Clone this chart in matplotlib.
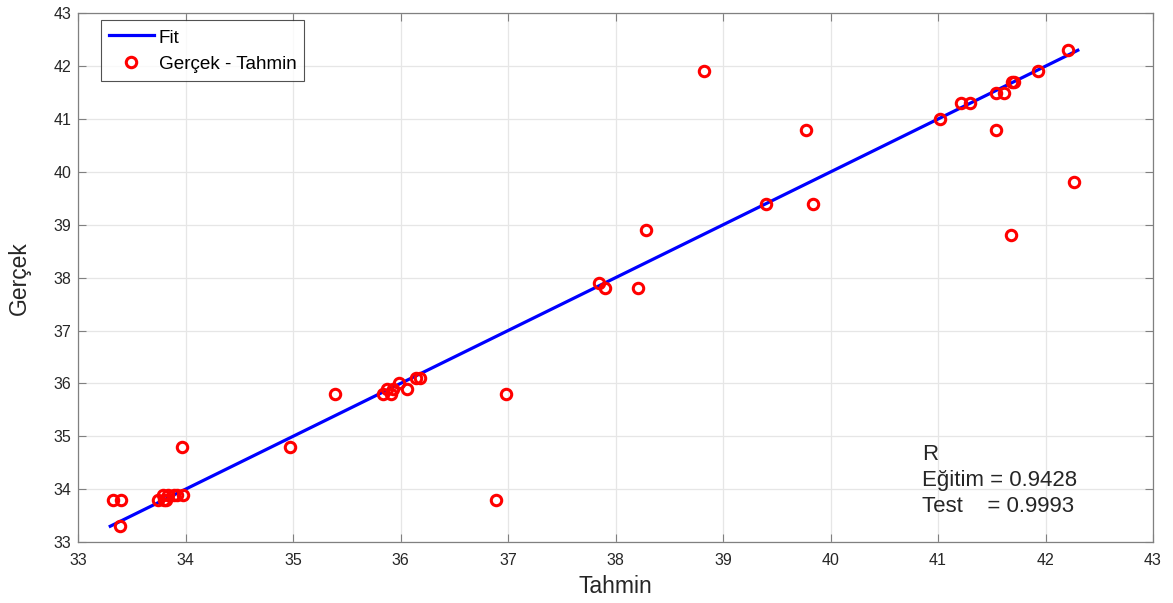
import matplotlib
matplotlib.use("Agg")
import matplotlib.pyplot as plt

plt.rcParams['font.family'] = ['Liberation Sans', 'DejaVu Sans']

# Data: predicted (Tahmin) vs actual (Gerçek)
tahmin = [33.33, 33.40, 33.39, 33.74, 33.79, 33.82, 33.80, 33.84, 33.89, 33.92, 33.98, 33.97, 34.97,
          35.39, 35.84, 35.87, 35.91, 35.93, 35.99, 36.06, 36.14, 36.18, 36.98, 36.89,
          37.85, 37.90, 38.21, 38.28, 38.82, 39.40, 39.84, 39.77,
          41.02, 41.21, 41.30, 41.54, 41.61, 41.69, 41.71, 41.93, 42.21, 41.54, 42.26, 41.68]
gercek = [33.8, 33.8, 33.3, 33.8, 33.9, 33.8, 33.8, 33.9, 33.9, 33.9, 33.9, 34.8, 34.8,
          35.8, 35.8, 35.9, 35.8, 35.9, 36.0, 35.9, 36.1, 36.1, 35.8, 33.8,
          37.9, 37.8, 37.8, 38.9, 41.9, 39.4, 39.4, 40.8,
          41.0, 41.3, 41.3, 41.5, 41.5, 41.7, 41.7, 41.9, 42.3, 40.8, 39.8, 38.8]
fit_x = [33.3, 42.3]
fit_y = [33.3, 42.3]
ticks = list(range(33, 44))

fig = plt.figure(figsize=(11.73, 6.03), dpi=100)
ax = fig.add_axes([0.0665, 0.101, 0.9165, 0.877])

ax.plot(fit_x, fit_y, color='#0000ff', lw=2.3, label='Fit', zorder=2)
ax.plot(tahmin, gercek, linestyle='none', marker='o', markersize=7.5, markerfacecolor='none',
        markeredgecolor='#ff0000', markeredgewidth=2.2, label='Gerçek - Tahmin', zorder=3)

ax.set_xlim(33, 43)
ax.set_ylim(33, 43)
ax.set_xticks(ticks)
ax.set_yticks(ticks)
ax.grid(True, color='#e6e6e6', lw=0.9)
ax.set_axisbelow(True)
ax.tick_params(direction='in', top=True, right=True, length=6, width=0.8,
               color='#808080', labelcolor='#262626', labelsize=11.5)
ax.tick_params(axis='x', pad=8)
ax.tick_params(axis='y', pad=5)
for s in ax.spines.values():
    s.set_color('#808080')
    s.set_linewidth(0.9)

ax.set_xlabel('Tahmin', fontsize=16.5, color='#262626', labelpad=5)
ax.set_ylabel('Gerçek', fontsize=16.5, color='#262626', labelpad=16)

leg = ax.legend(loc='upper left', bbox_to_anchor=(0.0215, 0.987), fontsize=13.6, frameon=True,
                fancybox=False, edgecolor='#262626', handlelength=2.4, handleheight=1.1,
                borderpad=0.4, labelspacing=0.35, handletextpad=0.26, borderaxespad=0)
leg.get_frame().set_linewidth(0.8)

ax.text(0.785, 0.117, 'R\nEğitim = 0.9428\nTest    = 0.9993', transform=ax.transAxes,
        fontsize=16, color='#262626', va='center', ha='left', linespacing=1.32)

fig.savefig('out.png', dpi=100)
